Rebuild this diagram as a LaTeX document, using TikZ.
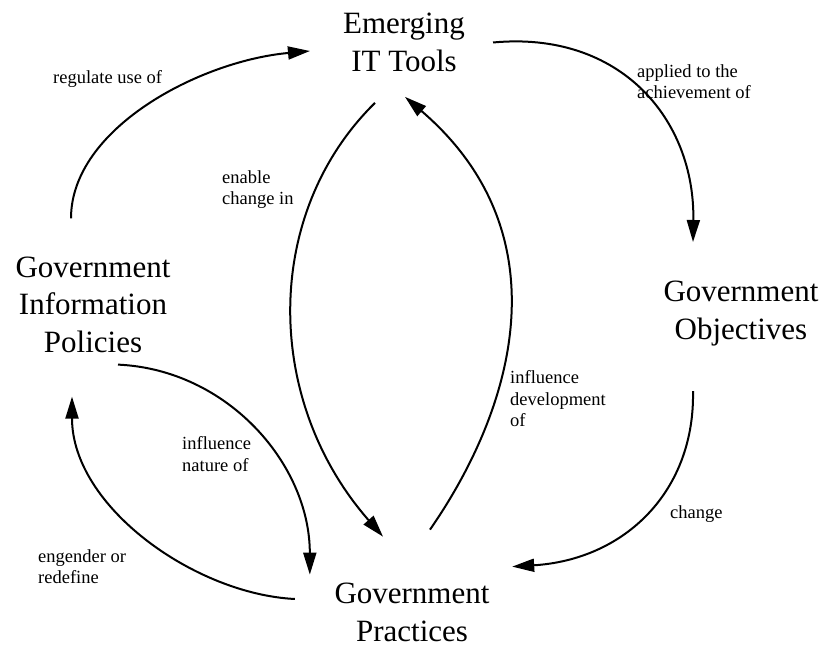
\documentclass[tikz,border=0pt]{standalone}
\usepackage{fontspec}
\setmainfont{Liberation Serif}
\usetikzlibrary{arrows.meta}
\begin{document}
\begin{tikzpicture}[x=1pt,y=1pt,
	big/.style={inner sep=0pt,align=center,font=\fontsize{31}{37.5}\selectfont},
	small/.style={inner sep=0pt,anchor=north west,align=left,font=\fontsize{18.5}{21.5}\selectfont},
	flow/.style={line width=2pt,-{Triangle[length=22pt,width=13pt]}}]
	\useasboundingbox (0,0) rectangle (823,646);
	\node[big] (emerging) at (404,603.5) {Emerging\\IT Tools};
	\node[big] (objectives) at (741,332.5) {Government\\Objectives};
	\node[big] (policies) at (93,341.5) {Government\\Information\\Policies};
	\node[big] (practices) at (412,33.5) {Government\\Practices};
	\node[small] (regulate) at (53,575.6) {regulate use of};
	\node[small] (applied) at (637,581.6) {applied to the\\achievement of};
	\node[small] (enable) at (222,475.6) {enable\\change in};
	\node[small] (develop) at (510,275.6) {influence\\development\\of};
	\node[small] (change) at (670,140.6) {change};
	\node[small] (nature) at (182,209.6) {influence\\nature of};
	\node[small] (engender) at (38,96.6) {engender or\\redefine};
	\draw[flow] ([shift={(-22,38)}]policies.north) .. controls +(0,90) and +(-110,-10) .. ([shift={(-33,-8.5)}]emerging.west);
	\draw[flow] ([shift={(28,0)}]emerging.east) .. controls +(127,12) and +(2,123) .. ([shift={(-48,39)}]objectives.north);
	\draw[flow] ([shift={(-29,-31)}]emerging.south) .. controls +(-112,-110) and +(-120,137) .. ([shift={(-29,46.5)}]practices.north);
	\draw[flow] ([shift={(18,53.5)}]practices.north) .. controls +(90,130) and +(155,-133) .. ([shift={(1,-25)}]emerging.south);
	\draw[flow] ([shift={(-48,-45)}]objectives.south) .. controls +(2,-100) and +(113,7) .. ([shift={(22.5,16.5)}]practices.north east);
	\draw[flow] ([shift={(25,-12)}]policies.south) .. controls +(110,-5) and +(0,110) .. ([shift={(-24.5,8.5)}]practices.north west);
	\draw[flow] ([shift={(-39.5,13.5)}]practices.west) .. controls +(-100,5) and +(0,-110) .. ([shift={(-21,-44)}]policies.south);
\end{tikzpicture}
\end{document}
